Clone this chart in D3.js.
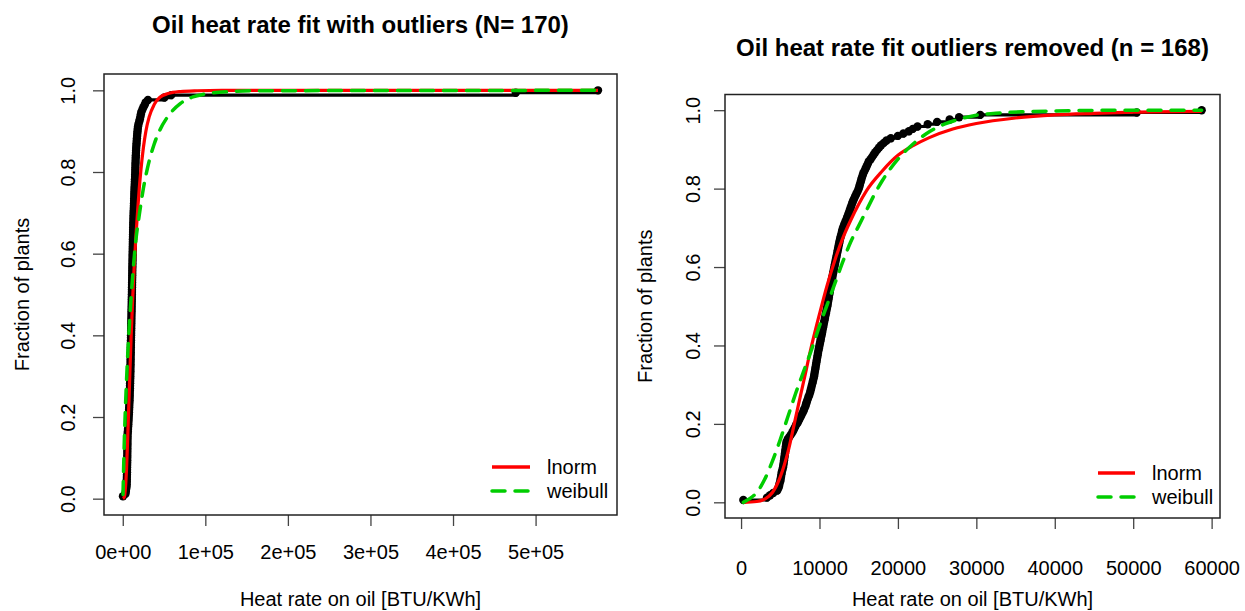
<!DOCTYPE html>
<html>
<head>
<meta charset="utf-8">
<script src="https://cdn.jsdelivr.net/npm/d3@7"></script>
<style>
  body { margin: 0; background: #fff; }
  text { font-family: "Liberation Sans", Arial, sans-serif; fill: #000; }
</style>
</head>
<body>
<div id="chart"></div>
<script>

// sorted oil heat rates [BTU/KWh] of the 168 plants kept after removing outliers
const heatRates = [
  290, 3300, 3700, 4100, 4600, 4750, 4850, 4900, 5000, 5050, 5100, 5150,
  5200, 5280, 5350, 5400, 5440, 5480, 5520, 5560, 5600, 5640, 5680, 5720,
  5760, 5800, 5950, 6150, 6350, 6550, 6700, 6850, 7000, 7200, 7350, 7500,
  7650, 7800, 7950, 8050, 8200, 8280, 8380, 8480, 8580, 8700, 8800, 8870,
  8950, 9020, 9100, 9170, 9250, 9310, 9360, 9410, 9460, 9510, 9560, 9610,
  9660, 9710, 9760, 9810, 9870, 9930, 9990, 10050, 10110, 10170, 10230, 10290,
  10350, 10400, 10460, 10520, 10580, 10640, 10700, 10760, 10820, 10880, 10940, 11000,
  11050, 11100, 11150, 11200, 11250, 11300, 11350, 11400, 11450, 11500, 11550, 11610,
  11670, 11730, 11790, 11850, 11910, 11970, 12030, 12090, 12150, 12210, 12270, 12330,
  12390, 12450, 12510, 12570, 12640, 12720, 12800, 12870, 12950, 13040, 13150, 13280,
  13400, 13520, 13640, 13740, 13850, 13950, 14050, 14160, 14270, 14400, 14540, 14680,
  14820, 14960, 15060, 15140, 15230, 15310, 15400, 15500, 15590, 15740, 15880, 16020,
  16160, 16280, 16520, 16720, 16920, 17120, 17360, 17600, 17860, 18200, 18550, 19100,
  20000, 20700, 21400, 21900, 22500, 23800, 25000, 26600, 27800, 30500, 50450, 58730
];

// the two plants removed in the right panel
const outlierRates = [ 476000, 575600 ];

// fitted CDFs (with outliers)
const lnormLeftRate = [ 290, 2000, 4000, 6000, 8000, 10000, 12000, 14000, 16000, 18000, 20000, 22000, 25000, 28000, 32000, 38000, 45000, 55000, 70000, 90000, 120000, 575600 ];
const lnormLeftFrac = [ 0, 0.005, 0.05, 0.15, 0.27, 0.39, 0.49, 0.575, 0.645, 0.705, 0.76, 0.805, 0.86, 0.9, 0.935, 0.965, 0.983, 0.992, 0.997, 0.999, 1, 1 ];
const weibullLeftRate = [ 290, 1000, 2000, 3000, 5000, 7000, 10000, 13000, 16000, 20000, 25000, 30000, 38000, 45000, 55000, 70000, 85000, 100000, 130000, 160000, 575600 ];
const weibullLeftFrac = [ 0.01, 0.07, 0.15, 0.21, 0.31, 0.39, 0.49, 0.57, 0.635, 0.695, 0.76, 0.81, 0.868, 0.903, 0.937, 0.968, 0.984, 0.991, 0.997, 0.999, 1 ];

// fitted CDFs (outliers removed)
const lnormRightRate = [ 290, 2000, 3000, 4000, 5000, 6000, 7000, 8000, 9000, 10000, 11000, 12000, 13000, 14000, 15000, 16000, 18000, 20000, 22000, 24000, 27000, 30000, 35000, 40000, 45000, 50000, 58730 ];
const lnormRightFrac = [ 0, 0.002, 0.008, 0.025, 0.065, 0.13, 0.22, 0.31, 0.4, 0.48, 0.555, 0.62, 0.675, 0.72, 0.76, 0.795, 0.845, 0.885, 0.91, 0.93, 0.952, 0.966, 0.98, 0.988, 0.992, 0.995, 0.997 ];
const weibullRightRate = [ 290, 1000, 2000, 3000, 4000, 5000, 6000, 7000, 8000, 9000, 10000, 11000, 12000, 13000, 14000, 15000, 16000, 17000, 18000, 20000, 22000, 24000, 26000, 28000, 30000, 33000, 36000, 40000, 50000, 58730 ];
const weibullRightFrac = [ 0, 0.008, 0.025, 0.058, 0.105, 0.16, 0.22, 0.28, 0.335, 0.39, 0.45, 0.505, 0.56, 0.615, 0.665, 0.705, 0.745, 0.785, 0.82, 0.875, 0.915, 0.945, 0.965, 0.978, 0.987, 0.993, 0.996, 0.998, 1, 1 ];

// axis ticks and labels
const leftXTicks = [ 0, 100000, 200000, 300000, 400000, 500000 ];
const rightXTicks = [ 0, 10000, 20000, 30000, 40000, 50000, 60000 ];
const yTicks = [ 0, 0.2, 0.4, 0.6, 0.8, 1.0 ];
const legendNames = [ 'lnorm', 'weibull' ];

const titles = [ 'Oil heat rate fit with outliers (N= 170)', 'Oil heat rate fit outliers removed (n = 168)' ];
const xTitle = 'Heat rate on oil [BTU/KWh]';
const yTitle = 'Fraction of plants';

const RED = '#ff0000';
const GREEN = '#00cd00';

const svg = d3.select( '#chart' )
  .append( 'svg' )
  .attr( 'width', 1245 )
  .attr( 'height', 611 );

// R-style scientific labels: 1e+05
function sciLabel( v ) {
  if ( v === 0 ) return '0e+00';
  const exp = Math.floor( Math.log10( v ) );
  const mant = Math.round( v / Math.pow( 10, exp ) );
  return `${mant}e+${String( exp ).padStart( 2, '0' )}`;
}

/**
 * Draws one ECDF panel
 */
function drawPanel( p ) {

  const n = p.rates.length;
  const span = d3.max( p.rates ) - d3.min( p.rates );

  const x = d3.scaleLinear()
    .domain( [ d3.min( p.rates ) - 0.04 * span, d3.max( p.rates ) + 0.04 * span ] )
    .range( [ p.box.left, p.box.right ] );

  const y = d3.scaleLinear()
    .domain( [ -0.04, 1.04 ] )
    .range( [ p.box.bottom, p.box.top ] );

  const g = svg.append( 'g' );

  // title
  g.append( 'text' )
    .attr( 'x', ( p.box.left + p.box.right ) / 2 )
    .attr( 'y', p.titleY )
    .attr( 'text-anchor', 'middle' )
    .style( 'font-size', '24px' )
    .style( 'font-weight', 'bold' )
    .text( p.title );

  // x axis
  const xAxis = g.append( 'g' )
    .attr( 'transform', `translate(0,${p.box.bottom})` )
    .call( d3.axisBottom( x ).tickValues( p.xTicks ).tickSize( 11 ).tickFormat( p.xFormat ) );
  xAxis.select( '.domain' ).remove();
  xAxis.selectAll( 'line' ).attr( 'stroke', '#444' ).attr( 'stroke-width', 1.3 );
  xAxis.selectAll( 'text' )
    .attr( 'y', p.xLabelDy )
    .attr( 'dy', 0 )
    .style( 'font-size', '20px' )
    .style( 'font-family', '"Liberation Sans", Arial, sans-serif' )
    .attr( 'fill', '#000' );

  // y axis with rotated labels
  const yAxis = g.append( 'g' )
    .attr( 'transform', `translate(${p.box.left},0)` )
    .call( d3.axisLeft( y ).tickValues( yTicks ).tickSize( 11 ).tickFormat( d3.format( '.1f' ) ) );
  yAxis.select( '.domain' ).remove();
  yAxis.selectAll( 'line' ).attr( 'stroke', '#444' ).attr( 'stroke-width', 1.3 );
  yAxis.selectAll( 'text' )
    .attr( 'transform', 'rotate(-90)' )
    .attr( 'x', 0 )
    .attr( 'y', -p.yLabelDx )
    .attr( 'dy', 0 )
    .attr( 'text-anchor', 'middle' )
    .style( 'font-size', '20px' )
    .style( 'font-family', '"Liberation Sans", Arial, sans-serif' )
    .attr( 'fill', '#000' );

  // axis titles
  g.append( 'text' )
    .attr( 'x', ( p.box.left + p.box.right ) / 2 )
    .attr( 'y', 606 )
    .attr( 'text-anchor', 'middle' )
    .style( 'font-size', '20px' )
    .text( xTitle );

  const yMid = ( p.box.top + p.box.bottom ) / 2;
  g.append( 'text' )
    .attr( 'transform', `translate(${p.yTitleX},${yMid}) rotate(-90)` )
    .attr( 'text-anchor', 'middle' )
    .style( 'font-size', '20px' )
    .text( yTitle );

  // plot box
  g.append( 'rect' )
    .attr( 'x', p.box.left )
    .attr( 'y', p.box.top )
    .attr( 'width', p.box.right - p.box.left )
    .attr( 'height', p.box.bottom - p.box.top )
    .attr( 'fill', 'none' )
    .attr( 'stroke', '#222' )
    .attr( 'stroke-width', 1.5 );

  // empirical CDF: steps plus one dot per plant
  const ecdf = p.rates.map( ( r, i ) => [ r, ( i + 1 ) / n ] );

  g.append( 'path' )
    .datum( ecdf )
    .attr( 'fill', 'none' )
    .attr( 'stroke', '#000' )
    .attr( 'stroke-width', 3.2 )
    .attr( 'd', d3.line().x( d => x( d[ 0 ] ) ).y( d => y( d[ 1 ] ) ).curve( d3.curveStepAfter ) );

  g.append( 'g' )
    .selectAll( 'circle' )
    .data( ecdf )
    .join( 'circle' )
    .attr( 'cx', d => x( d[ 0 ] ) )
    .attr( 'cy', d => y( d[ 1 ] ) )
    .attr( 'r', 4.2 )
    .attr( 'fill', '#000' );

  // fitted curves
  const fitLine = d3.line().x( d => x( d[ 0 ] ) ).y( d => y( d[ 1 ] ) ).curve( d3.curveMonotoneX );

  g.append( 'path' )
    .datum( d3.zip( p.lnormRate, p.lnormFrac ) )
    .attr( 'fill', 'none' )
    .attr( 'stroke', RED )
    .attr( 'stroke-width', 3.2 )
    .attr( 'd', fitLine );

  g.append( 'path' )
    .datum( d3.zip( p.weibullRate, p.weibullFrac ) )
    .attr( 'fill', 'none' )
    .attr( 'stroke', GREEN )
    .attr( 'stroke-width', 3.5 )
    .attr( 'stroke-linecap', 'round' )
    .attr( 'stroke-dasharray', '13,10' )
    .attr( 'd', fitLine );

  // legend (no frame)
  const legend = g.append( 'g' )
    .attr( 'transform', `translate(${p.box.right},${p.box.bottom})` );

  legendNames.forEach( ( name, i ) => {
    const ly = p.legendY[ i ];
    legend.append( 'line' )
      .attr( 'x1', p.legendX[ 0 ] )
      .attr( 'x2', p.legendX[ 1 ] )
      .attr( 'y1', ly )
      .attr( 'y2', ly )
      .attr( 'stroke', i === 0 ? RED : GREEN )
      .attr( 'stroke-width', 3.5 )
      .attr( 'stroke-linecap', i === 0 ? 'butt' : 'round' )
      .attr( 'stroke-dasharray', i === 0 ? null : '13,10' );
    legend.append( 'text' )
      .attr( 'x', p.legendX[ 2 ] )
      .attr( 'y', ly + 7 )
      .style( 'font-size', '20px' )
      .text( name );
  } );
}

drawPanel( {
  title: titles[ 0 ],
  titleY: 33,
  box: { left: 104, top: 74, right: 617, bottom: 515 },
  rates: heatRates.concat( outlierRates ),
  xTicks: leftXTicks,
  xFormat: sciLabel,
  xLabelDy: 44,
  yLabelDx: 29,
  yTitleX: 29,
  lnormRate: lnormLeftRate, lnormFrac: lnormLeftFrac,
  weibullRate: weibullLeftRate, weibullFrac: weibullLeftFrac,
  legendX: [ -125, -87, -70 ],
  legendY: [ -48, -24 ]
} );

drawPanel( {
  title: titles[ 1 ],
  titleY: 56,
  box: { left: 725, top: 94.5, right: 1220, bottom: 518 },
  rates: heatRates,
  xTicks: rightXTicks,
  xFormat: d3.format( 'd' ),
  xLabelDy: 57,
  yLabelDx: 25,
  yTitleX: 652,
  lnormRate: lnormRightRate, lnormFrac: lnormRightFrac,
  weibullRate: weibullRightRate, weibullFrac: weibullRightFrac,
  legendX: [ -122, -85, -68 ],
  legendY: [ -45, -21 ]
} );

</script>
</body>
</html>
